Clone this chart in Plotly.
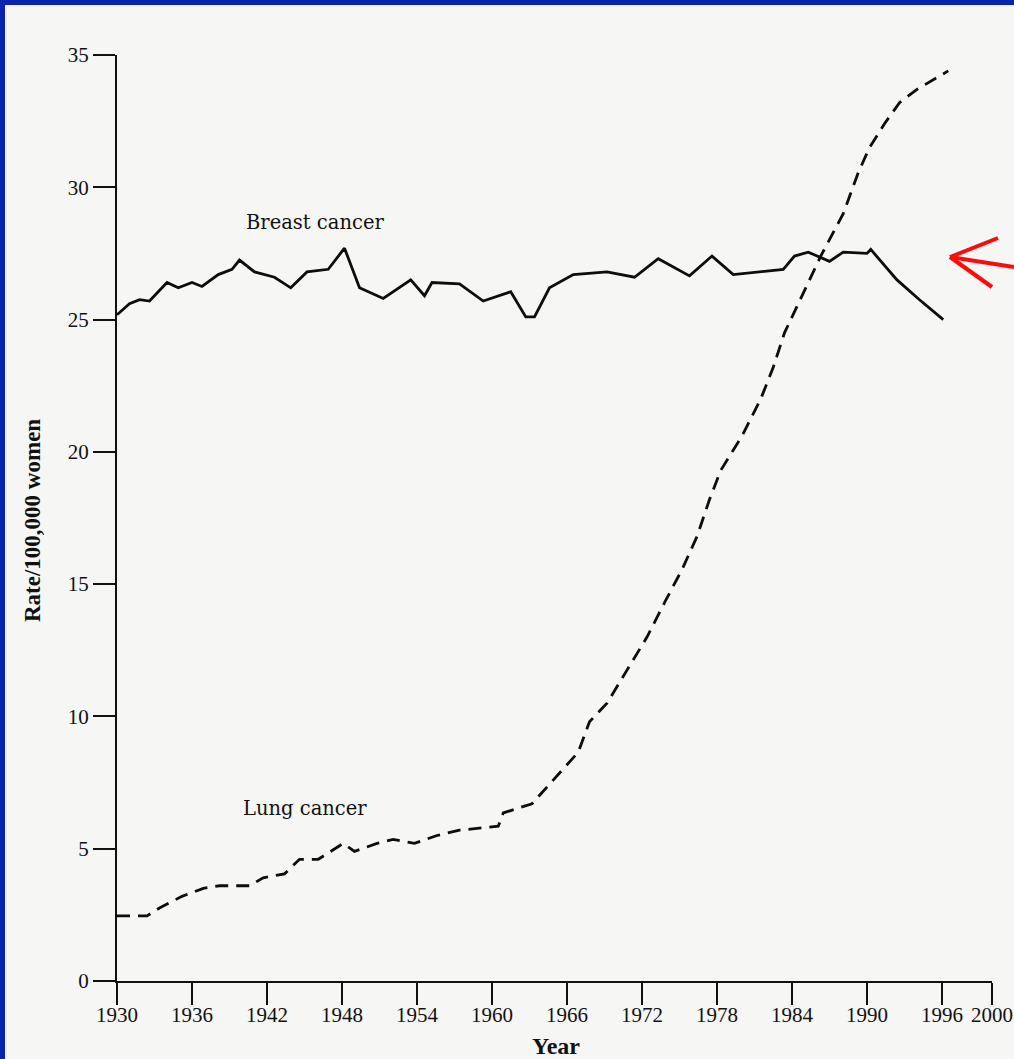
import plotly.graph_objects as go

# ---- data ----
breast_year = [1930, 1931, 1931.8, 1932.6, 1934, 1934.9, 1936, 1936.8, 1938.1, 1939.2,
               1939.8, 1941, 1942.6, 1943.9, 1945.2, 1946.9, 1948.2, 1949.4, 1951.3, 1953.5,
               1954.6, 1955.2, 1957.4, 1959.3, 1961.5, 1962.7, 1963.4, 1964.6, 1966.5, 1969.2,
               1971.4, 1973.3, 1975.8, 1977.6, 1979.3, 1983.3, 1984.2, 1985.3, 1987, 1988.1,
               1990.0, 1990.3, 1992.4, 1994.2, 1996.1]
breast_rate = [25.18, 25.6, 25.75, 25.7, 26.4, 26.2, 26.4, 26.25, 26.7, 26.9,
               27.25, 26.8, 26.6, 26.2, 26.8, 26.9, 27.7, 26.2, 25.8, 26.5,
               25.9, 26.4, 26.35, 25.7, 26.05, 25.1, 25.1, 26.2, 26.7, 26.8,
               26.6, 27.3, 26.65, 27.4, 26.7, 26.9, 27.4, 27.55, 27.2, 27.55,
               27.5, 27.65, 26.5, 25.75, 25.0]

lung_year = [1930, 1932.4, 1933.4, 1935.2, 1936.9, 1938.2, 1940.6, 1941.7, 1943.4, 1944.6,
             1946.1, 1948.1, 1949, 1950.8, 1952.1, 1953.8, 1955.6, 1957.4, 1960.5, 1960.9,
             1963.2, 1966.9, 1967.8, 1969.2, 1970.8, 1972.4, 1973.8, 1975.2, 1976.4, 1977.4,
             1978.3, 1980, 1981.5, 1982.5, 1983.4, 1986.3, 1988.1, 1989.3, 1990.2, 1991.4,
             1992.6, 1994, 1996.5]
lung_rate = [2.46, 2.46, 2.76, 3.2, 3.5, 3.6, 3.6, 3.9, 4.05, 4.6,
             4.6, 5.2, 4.9, 5.2, 5.35, 5.2, 5.5, 5.7, 5.85, 6.35,
             6.7, 8.65, 9.8, 10.5, 11.75, 13.0, 14.3, 15.55, 16.8, 18.2,
             19.3, 20.6, 22.0, 23.2, 24.5, 27.4, 29.0, 30.55, 31.5, 32.4,
             33.2, 33.7, 34.4]

x_ticks = [1930, 1936, 1942, 1948, 1954, 1960, 1966, 1972, 1978, 1984, 1990, 1996, 2000]
y_ticks = [0, 5, 10, 15, 20, 25, 30, 35]

# ---- layout geometry (pixels) ----
W, H = 1014, 1059
L, R, T, B = 117, 22, 55, 78
PW, PH = W - L - R, H - T - B

def px(x):
    return (x - L) / PW

def py(y):
    return (H - B - y) / PH

fig = go.Figure()
fig.add_trace(go.Scatter(x=breast_year, y=breast_rate, mode="lines",
                         line=dict(color="#0d0d0d", width=2.8), name="Breast cancer"))
fig.add_trace(go.Scatter(x=lung_year, y=lung_rate, mode="lines",
                         line=dict(color="#0d0d0d", width=2.8, dash="13px,8px"), name="Lung cancer"))

tickfont = dict(family="Liberation Serif", size=21, color="#111111")
fig.update_xaxes(range=[1930, 2000], tickvals=x_ticks, ticktext=[str(v) for v in x_ticks],
                 showgrid=False, zeroline=False, showline=True, linecolor="#111111", linewidth=2,
                 ticks="outside", ticklen=22, tickwidth=2, tickcolor="#111111", tickfont=tickfont,
                 ticklabelstandoff=-8, automargin=False, ticklabeloverflow="allow")
fig.update_yaxes(range=[0, 35], tickvals=y_ticks, ticktext=[str(v) for v in y_ticks],
                 showgrid=False, zeroline=False, showline=True, linecolor="#111111", linewidth=2,
                 ticks="outside", ticklen=22, tickwidth=2, tickcolor="#111111", tickfont=tickfont,
                 automargin=False, ticklabeloverflow="allow")

labfont = dict(family="DejaVu Serif", size=19.5, color="#111111")
common = dict(xref="paper", yref="paper", showarrow=False, xanchor="center", yanchor="middle")
annotations = [
    dict(text="Breast cancer", x=px(315), y=py(223), font=labfont, **common),
    dict(text="Lung cancer", x=px(305), y=py(808), font=labfont, **common),
    dict(text="<b>Rate/100,000 women</b>", x=px(32), y=py(521), textangle=-90,
         font=dict(family="Liberation Serif", size=23, color="#111111"), **common),
    dict(text="<b>Year</b>", x=px(556), y=py(1046),
         font=dict(family="Liberation Serif", size=24, color="#111111"), **common),
]

blue = "#0a23a8"
shapes = [
    dict(type="rect", xref="paper", yref="paper", x0=px(0), x1=px(W + 20), y0=py(5), y1=py(0),
         fillcolor=blue, line=dict(width=0), layer="above"),
    dict(type="rect", xref="paper", yref="paper", x0=px(0), x1=px(5), y0=py(H), y1=py(0),
         fillcolor=blue, line=dict(width=0), layer="above"),
]
red = "#ff0a0a"
tip = (950, 257)
for end in [(998, 238), (992, 287), (1014, 267)]:
    shapes.append(dict(type="line", xref="paper", yref="paper",
                       x0=px(tip[0]), y0=py(tip[1]), x1=px(end[0]), y1=py(end[1]),
                       line=dict(color=red, width=4)))

fig.update_layout(width=W, height=H, margin=dict(l=L, r=R, t=T, b=B, autoexpand=False),
                  autosize=False, paper_bgcolor="#f6f6f5", plot_bgcolor="#f6f6f5",
                  showlegend=False, annotations=annotations, shapes=shapes)

fig.write_html("out.html",
               config={"displayModeBar": False, "responsive": False},
               post_script="document.documentElement.style.overflow='hidden';"
                           "document.documentElement.style.background='#f6f6f5';"
                           "document.body.style.margin='0';document.body.style.padding='0';"
                           "document.body.style.overflow='hidden';")
